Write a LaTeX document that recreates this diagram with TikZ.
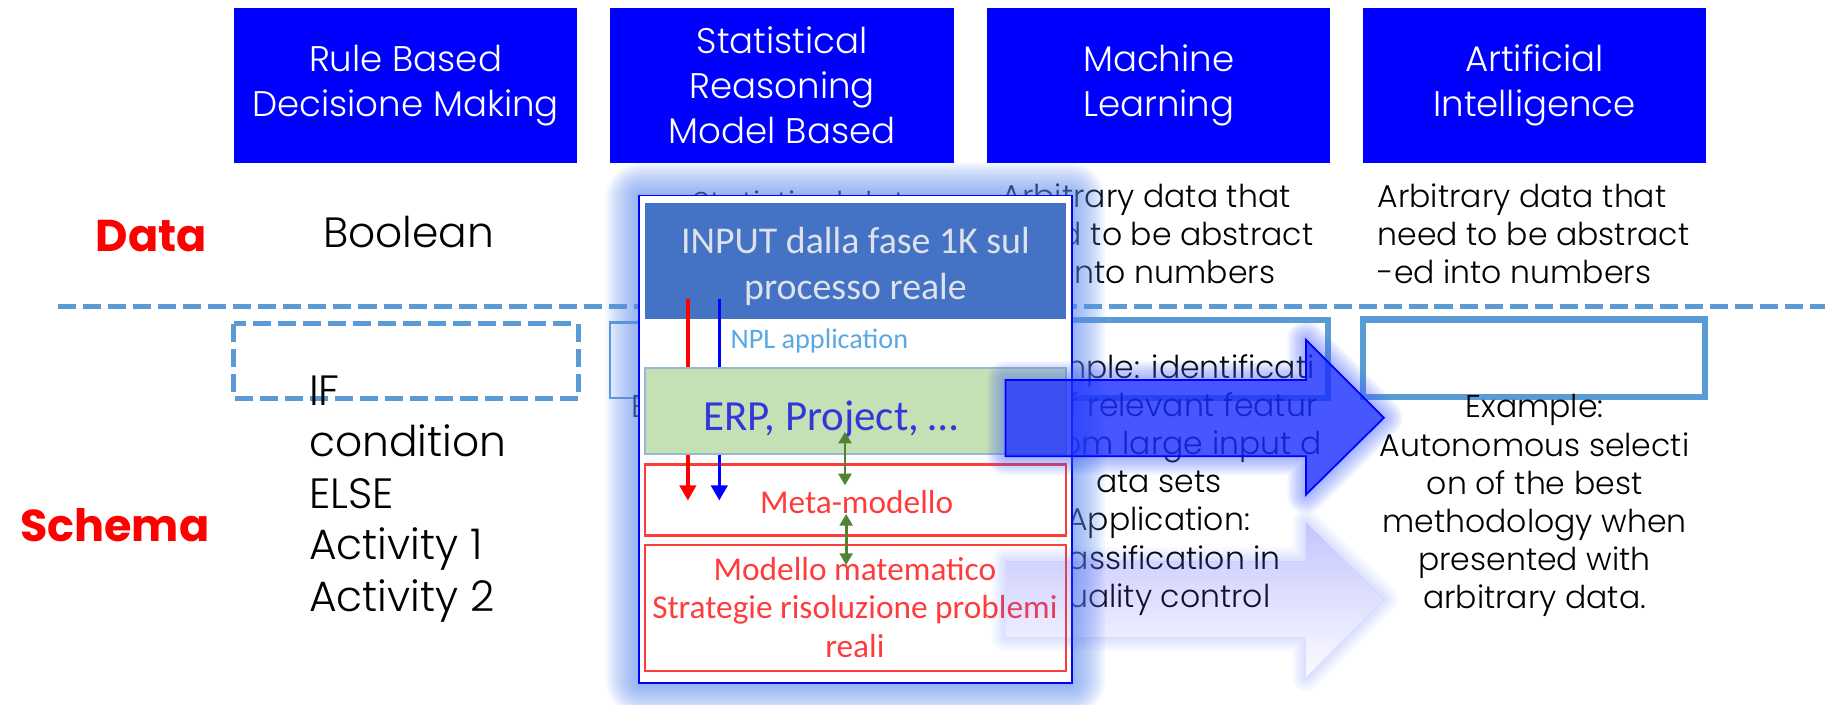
\documentclass[tikz,border=0pt]{standalone}
\usepackage{fontspec}
\usetikzlibrary{arrows.meta,fadings}
\newfontfamily\gl{Poppins Light}
\newfontfamily\gp{Poppins}
\newfontfamily\cb{Carlito}
\definecolor{hdrblue}{RGB}{0,0,255}
\definecolor{dashblue}{RGB}{91,155,213}
\definecolor{inpblue}{RGB}{68,114,196}
\definecolor{inptext}{RGB}{222,226,234}
\definecolor{nplblue}{RGB}{88,168,228}
\definecolor{erpgreen}{RGB}{197,224,180}
\definecolor{erpborder}{RGB}{150,185,215}
\definecolor{erptext}{RGB}{50,55,220}
\definecolor{metared}{RGB}{255,60,60}
\definecolor{arrgreen}{RGB}{84,130,53}
\definecolor{glowblue}{RGB}{90,140,240}
\definecolor{arrglow}{RGB}{70,100,255}
\definecolor{arrfill}{RGB}{25,45,255}
\definecolor{reflc}{RGB}{90,90,255}
\tikzfading[name=reflfade, top color=transparent!65, bottom color=transparent!98]
\tikzset{
 hdr/.style={fill=hdrblue, text=white, minimum width=29.5mm, minimum height=13.3mm, inner sep=0pt, align=center, font=\gl\fontsize{8.7}{11}\selectfont},
 lbl/.style={text=red, inner sep=0pt, font=\gp\bfseries\fontsize{10.9}{13}\selectfont},
 big/.style={inner sep=0pt, font=\gl\fontsize{10.35}{12.6}\selectfont},
 body/.style={inner sep=0pt, font=\gl\fontsize{7.7}{9.3}\selectfont},
 dashline/.style={draw=dashblue, line width=0.43mm, dash pattern=on 1.55mm off 0.6mm},
 solidbox/.style={draw=dashblue, line width=0.57mm},
 ovbox/.style={inner sep=0pt, minimum width=36.2mm},
 redbox/.style={ovbox, draw=metared, fill=white, line width=0.2mm},
 ovtext/.style={inner sep=0pt, anchor=base},
 redtext/.style={ovtext, text=metared, font=\cb\fontsize{8.15}{9.6}\selectfont},
 flowarr/.style={line width=0.3mm, -{Triangle[width=1.4mm,length=1.3mm]}},
 garr/.style={draw=arrgreen, line width=0.25mm, {Triangle[width=1.1mm,length=1mm]}-{Triangle[width=1.1mm,length=1mm]}},
}
\begin{document}
\begin{tikzpicture}[x=0.1mm,y=-0.1mm]
\useasboundingbox (0,0) rectangle (1568,605);
\fill[white] (0,0) rectangle (1568,605);
% header boxes
\node[hdr] (h1) at (348.5,73.5) {Rule Based\\Decisione Making};
\node[hdr] (h2) at (672,73.5) {Statistical\\Reasoning\\Model Based};
\node[hdr] (h3) at (995.5,73.5) {Machine\\Learning};
\node[hdr] (h4) at (1318.5,73.5) {Artificial\\Intelligence};
% row labels
\node[lbl, anchor=base west] (data) at (81.5,216) {Data};
\node[lbl, anchor=base west] (schema) at (16.5,465) {Schema};
% separator
\coordinate (dl0) at (50,263);
\coordinate (dl1) at (1568,263);
\draw[dashline] (dl0) -- (dl1);
% data row
\node[big, anchor=base west] (bool) at (277,213) {Boolean};
\node[body, anchor=base west] (sd) at (594,184) {Statistical data};
\foreach \txt [count=\k] in {Arbitrary data that, need to be abstract, -ed into numbers}{
  \node[body, anchor=base west] (mld\k) at (860,{178+(\k-1)*32.75}) {\txt};
  \node[body, anchor=base west] (aid\k) at (1183,{178+(\k-1)*32.75}) {\txt};
}
% schema row boxes
\draw[dashline] (201,278) rectangle (497,342);
\draw[draw=dashblue, line width=0.2mm] (524,277) rectangle (820,342);
\draw[solidbox] (850,275) rectangle (1141,342);
\draw[solidbox] (1171,274.5) rectangle (1465,341);
% schema row texts
\foreach \txt [count=\k] in {IF, condition, ELSE, Activity 1, Activity 2}{
  \node[big, anchor=base west] (rb\k) at (265,{348+(\k-1)*44.25}) {\txt};
}
\node[body, anchor=base west] (se) at (542,359) {E};
\foreach \txt [count=\k] in {Example: identificati, on of relevant featur, es from large input d, ata sets, Application:, Classification in, quality control}{
  \node[body, anchor=base] (mls\k) at (995.5,{325+(\k-1)*32.8}) {\txt};
}
\foreach \txt [count=\k] in {Example:, Autonomous selecti, on of the best, methodology when, presented with, arbitrary data.}{
  \node[body, anchor=base] (ais\k) at (1318.5,{359+(\k-1)*32.8}) {\txt};
}
% overlay picture with glow
\foreach \i in {1,...,13}{
  \fill[glowblue, opacity=0.065, rounded corners={\i*0.25mm}] ({549-\i*2.2},{168-\i*2.2}) rectangle ({921+\i*2.2},{587+\i*2.2});
}
\node[draw=hdrblue, fill=white, line width=0.16mm, inner sep=0pt, minimum width=37.2mm, minimum height=41.9mm] (ov) at (735,377.5) {};
\node[ovbox, fill=inpblue, minimum height=10mm] (inp) at (735,224) {};
\node[redbox, minimum height=6.1mm] (meta) at (735,429.5) {};
\node[redbox, minimum height=10.85mm] (mod) at (735,522.25) {};
\coordinate (ra0) at (591,257);
\coordinate (ra1) at (591,430);
\coordinate (ba0) at (618,257);
\coordinate (ba1) at (618,430);
\draw[flowarr, draw=red, fill=red] (ra0) -- (ra1);
\draw[flowarr, draw=hdrblue, fill=hdrblue] (ba0) -- (ba1);
\node[ovbox, fill=erpgreen, draw=erpborder, line width=0.15mm, minimum height=7.4mm] (erp) at (735,353) {};
\node[ovtext, text=inptext, font=\cb\fontsize{9.25}{11}\selectfont] (in1) at (735,217.7) {INPUT dalla fase 1K sul};
\node[ovtext, text=inptext, font=\cb\fontsize{9.25}{11}\selectfont] (in2) at (735,257) {processo reale};
\node[ovtext, anchor=base west, text=nplblue, font=\cb\fontsize{6.9}{8}\selectfont] (npl) at (627,299.7) {NPL application};
\node[ovtext, text=erptext, font=\cb\fontsize{10.5}{12}\selectfont] (erpt) at (714,370) {ERP, Project, …};
\node[redtext] (metat) at (736,441.6) {Meta-modello};
\node[redtext] (mod1) at (734.5,498.6) {Modello matematico};
\node[redtext] (mod2) at (734.5,531.8) {Strategie risoluzione problemi};
\node[redtext] (mod3) at (734.5,565) {reali};
\coordinate (g0) at (726,371);
\coordinate (g1) at (726,417);
\coordinate (g2) at (727,441.6);
\coordinate (g3) at (727,485.4);
\draw[garr] (g0) -- (g1);
\draw[garr] (g2) -- (g3);
% big arrow
\coordinate (a1) at (864,326.5);
\coordinate (a2) at (1122,326.5);
\coordinate (a3) at (1122,292);
\coordinate (a4) at (1189,359);
\coordinate (a5) at (1122,425);
\coordinate (a6) at (1122,392);
\coordinate (a7) at (864,392);
\begin{scope}
\clip (0,0) -- (0,605) -- (1568,605) -- (1568,0) -- cycle (a1) -- (a2) -- (a3) -- (a4) -- (a5) -- (a6) -- (a7) -- cycle;
\foreach \w in {32,29,...,3}{
  \draw[arrglow, line width=\w*0.1mm, opacity=0.055, line join=round] (a1) -- (a2) -- (a3) -- (a4) -- (a5) -- (a6) -- (a7) -- cycle;
}
\end{scope}
\draw[draw=hdrblue, line width=0.15mm, fill=arrfill, fill opacity=0.8] (a1) -- (a2) -- (a3) -- (a4) -- (a5) -- (a6) -- (a7) -- cycle;
% reflection
\coordinate (r1) at (864,547.5);
\coordinate (r2) at (1122,547.5);
\coordinate (r3) at (1122,582);
\coordinate (r4) at (1189,515);
\coordinate (r5) at (1122,449);
\coordinate (r6) at (1122,482);
\coordinate (r7) at (864,482);
\begin{scope}
\clip (0,0) -- (0,605) -- (1568,605) -- (1568,0) -- cycle (r1) -- (r7) -- (r6) -- (r5) -- (r4) -- (r3) -- (r2) -- cycle;
\foreach \w in {24,20,...,4}{
  \draw[arrglow, line width=\w*0.1mm, opacity=0.03, line join=round] (r1) -- (r2) -- (r3) -- (r4) -- (r5) -- (r6) -- (r7) -- cycle;
}
\end{scope}
\fill[reflc, path fading=reflfade] (r1) -- (r2) -- (r3) -- (r4) -- (r5) -- (r6) -- (r7) -- cycle;
\end{tikzpicture}
\end{document}
